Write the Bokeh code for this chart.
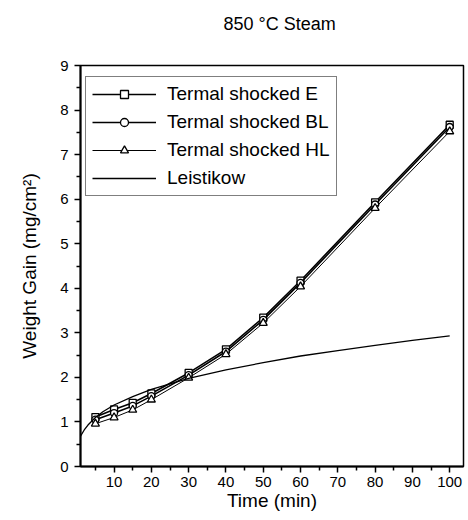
from bokeh.plotting import figure
from bokeh.models import Range1d, Legend, LegendItem, FixedTicker, Title
from bokeh.embed import file_html
from bokeh.resources import INLINE

# Data
time_min = [5, 10, 15, 20, 30, 40, 50, 60, 80, 100]
gain_e = [1.11, 1.28, 1.43, 1.64, 2.10, 2.63, 3.34, 4.17, 5.93, 7.67]
gain_bl = [1.05, 1.20, 1.36, 1.58, 2.05, 2.58, 3.29, 4.12, 5.88, 7.62]
gain_hl = [0.96, 1.10, 1.27, 1.50, 1.99, 2.52, 3.22, 4.04, 5.80, 7.52]

leis_t = [1, 2, 3, 5, 7, 10, 15, 20, 30, 40, 50, 60, 70, 80, 90, 100]
leis_w = [0.68, 0.82, 0.93, 1.10, 1.23, 1.38, 1.57, 1.73, 1.98, 2.17, 2.33, 2.48, 2.60, 2.72, 2.83, 2.93]

x_ticks = [10, 20, 30, 40, 50, 60, 70, 80, 90, 100]
x_minor = [5, 15, 25, 35, 45, 55, 65, 75, 85, 95]
y_ticks = [0, 1, 2, 3, 4, 5, 6, 7, 8, 9]
y_minor = [0.5, 1.5, 2.5, 3.5, 4.5, 5.5, 6.5, 7.5, 8.5]

title_text = "850 \u00b0C Steam"

FONT = "Liberation Sans"

p = figure(width=468, height=520, output_backend="svg", toolbar_location=None,
           x_range=Range1d(1, 103.7), y_range=Range1d(0, 9),
           min_border_left=80, min_border_right=5, min_border_top=65, min_border_bottom=54)
p.title.visible = False
spacer = Title(text=" ", text_font=FONT, text_font_size="27px", standoff=0)
p.add_layout(spacer, "above")
main_title = Title(text=title_text, text_font=FONT, text_font_size="18px",
                   text_font_style="normal", text_color="black", align="left",
                   offset=143, standoff=0)
p.add_layout(main_title, "above")

p.xgrid.visible = False
p.ygrid.visible = False
p.outline_line_color = "black"
p.outline_line_width = 1.5
p.outline_line_alpha = 1.0

for ax in (p.xaxis[0], p.yaxis[0]):
    ax.axis_line_width = 2
    ax.axis_line_color = "black"
    ax.major_tick_line_width = 1.5
    ax.minor_tick_line_width = 1.5
    ax.major_tick_line_color = "black"
    ax.minor_tick_line_color = "black"
    ax.major_tick_out = 6
    ax.major_tick_in = 0
    ax.minor_tick_out = 4
    ax.minor_tick_in = 0
    ax.major_label_text_font = FONT
    ax.major_label_text_font_size = "15px"
    ax.major_label_text_color = "black"
    ax.axis_label_text_font = FONT
    ax.axis_label_text_font_size = "19px"
    ax.axis_label_text_font_style = "normal"
    ax.axis_label_text_color = "black"

p.xaxis.ticker = FixedTicker(ticks=x_ticks, minor_ticks=x_minor)
p.yaxis.ticker = FixedTicker(ticks=y_ticks, minor_ticks=y_minor)
p.xaxis.axis_label = "Time (min)"
p.yaxis.axis_label = "Weight Gain (mg/cm\u00b2)"
p.xaxis.major_label_standoff = 4
p.yaxis.major_label_standoff = 6
p.xaxis.axis_label_standoff = 0
p.yaxis.axis_label_standoff = 17

l_e = p.line(time_min, gain_e, line_color="black", line_width=1.6)
m_e = p.scatter(time_min, gain_e, marker="square", size=7, fill_color="white",
                line_color="black", line_width=1.3)
l_bl = p.line(time_min, gain_bl, line_color="black", line_width=1.6)
m_bl = p.scatter(time_min, gain_bl, marker="circle", size=7, fill_color="white",
                 line_color="black", line_width=1.3)
l_hl = p.line(time_min, gain_hl, line_color="black", line_width=1.0)
m_hl = p.scatter(time_min, gain_hl, marker="triangle", size=8, fill_color="white",
                 line_color="black", line_width=1.3)
l_le = p.line(leis_t, leis_w, line_color="black", line_width=1.3)

legend = Legend(items=[
    LegendItem(label="Termal shocked E", renderers=[l_e, m_e]),
    LegendItem(label="Termal shocked BL", renderers=[l_bl, m_bl]),
    LegendItem(label="Termal shocked HL", renderers=[l_hl, m_hl]),
    LegendItem(label="Leistikow", renderers=[l_le]),
], location=(5, 270))
legend.label_text_font = FONT
legend.label_text_font_size = "19px"
legend.label_text_color = "black"
legend.glyph_width = 64
legend.glyph_height = 20
legend.label_height = 20
legend.label_standoff = 11
legend.spacing = 6
legend.padding = 6
legend.margin = 0
legend.border_line_color = "black"
legend.border_line_width = 1.5
legend.background_fill_alpha = 1.0
p.add_layout(legend, "center")

open("out.html", "w").write(file_html(p, INLINE))
